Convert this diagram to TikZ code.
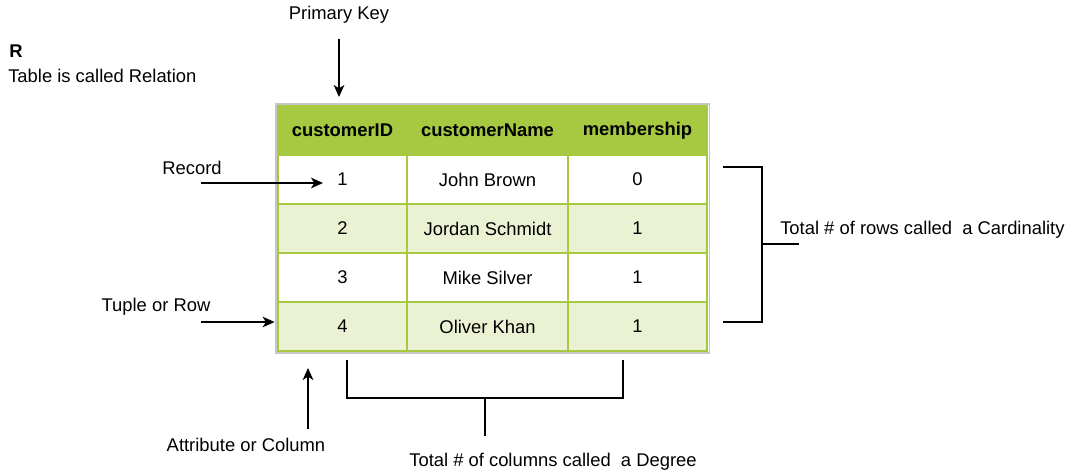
\documentclass[tikz,border=0pt]{standalone}
\usepackage{fontspec}
\setmainfont{Liberation Sans}
\usetikzlibrary{arrows.meta}
\definecolor{hdrgreen}{HTML}{A7C942}
\definecolor{rowgreen}{HTML}{EAF2D3}

\begin{document}
\begin{tikzpicture}[
    x=0.75pt, y=-0.75pt,
    every node/.style={font=\fontsize{13.8}{16}\selectfont, inner sep=0pt},
    cell/.style={draw=hdrgreen, line width=1.1pt, rectangle, minimum height=36.75pt},
    hdr/.style={cell, fill=hdrgreen, font=\fontsize{13.8}{16}\selectfont\bfseries},
    odd/.style={cell, fill=white},
    even/.style={cell, fill=rowgreen},
    ptr/.style={draw, line width=1pt, -{Stealth[length=9pt,width=8pt,inset=2.5pt]}},
    brace/.style={draw, line width=1pt}
]
\useasboundingbox (0,0) rectangle (1068,471);

% relation name
\node[anchor=west, font=\fontsize{13.8}{16}\selectfont\bfseries] (rname) at (9,51) {R};
\node[anchor=west] (rcap) at (8,76) {Table is called Relation};

% the table
\draw[gray!45, line width=0.8pt] (276,104) rectangle (709.5,353);
\foreach \r/\id/\name/\mem/\sty in {1/1/John Brown/0/odd, 2/2/Jordan Schmidt/1/even,
    3/3/Mike Silver/1/odd, 4/4/Oliver Khan/1/even} {
  \node[\sty, minimum width=96.75pt] (r\r-1) at (342.5,{130.5+49*\r}) {\id};
  \node[\sty, minimum width=120.75pt] (r\r-2) at (487.5,{130.5+49*\r}) {\name};
  \node[\sty, minimum width=104.25pt] (r\r-3) at (637.5,{130.5+49*\r}) {\mem};
}
\node[hdr, minimum width=96.75pt] (h1) at (342.5,130.5) {customerID};
\node[hdr, minimum width=120.75pt] (h2) at (487.5,130.5) {customerName};
\node[hdr, minimum width=104.25pt] (h3) at (637.5,130.5) {membership};

% labels round the table
\node (pk) at (339,15) {Primary Key};
\node (rec) at (192,168) {Record};
\node (tup) at (156,307) {Tuple or Row};
\node (attr) at (246,445) {Attribute or Column};
\node (deg) at (553,462) {Total \# of columns called \ a Degree};
\node[anchor=west] (card) at (780,230) {Total \# of rows called \ a Cardinality};

\coordinate (pktip) at (339,97);
\coordinate (recfoot) at (201,183);
\coordinate (rectip) at (323,183);
\coordinate (tupfoot) at (201,322);
\coordinate (attrfoot) at (308,429);
\coordinate (attrtip) at (308,368);

\draw[ptr, shorten <=11pt] (pk.south) -- (pktip);
\draw[ptr] (recfoot) -- (rectip);
\draw[ptr, shorten >=2pt] (tupfoot) -- (tupfoot -| r4-1.west);
\draw[ptr] (attrfoot) -- (attrtip);

% degree and cardinality brackets
\draw[brace] (347,360) |- (623,398) -- (623,360);
\draw[brace] (485,398) -- (485,436);
\draw[brace] (723,167) -| (762,322) -- (723,322);
\draw[brace] (762,244) -- (799,244);
\end{tikzpicture}
\end{document}
